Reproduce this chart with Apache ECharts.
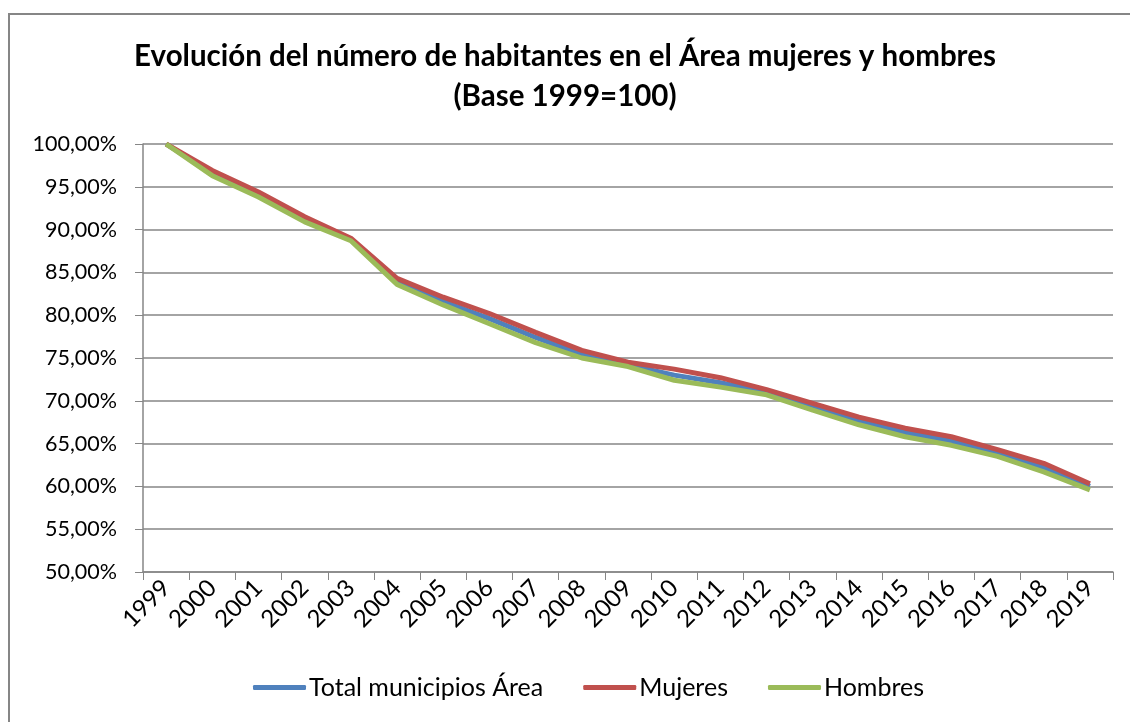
<!DOCTYPE html>
<html>
<head>
<meta charset="utf-8">
<script src="https://cdn.jsdelivr.net/npm/echarts@6/dist/echarts.min.js"></script>
<style>
  html, body { margin: 0; padding: 0; background: #fff; }
  #main { width: 1130px; height: 722px; }
</style>
</head>
<body>
<div id="main"></div>
<script>
// años
var years = ['1999', '2000', '2001', '2002', '2003', '2004', '2005', '2006', '2007', '2008', '2009',
  '2010', '2011', '2012', '2013', '2014', '2015', '2016', '2017', '2018', '2019'];

// Base 1999 = 100
var total = [100, 96.6, 94.1, 91.2, 88.85, 83.95, 81.6, 79.6, 77.4, 75.4, 74.2,
  73.0, 72.1, 71.0, 69.3, 67.6, 66.3, 65.3, 63.9, 62.2, 60.0];
var mujeres = [100, 96.9, 94.4, 91.5, 89.0, 84.3, 82.1, 80.2, 78.0, 75.9, 74.5,
  73.7, 72.7, 71.3, 69.7, 68.1, 66.8, 65.8, 64.3, 62.7, 60.3];
var hombres = [100, 96.3, 93.8, 90.9, 88.7, 83.6, 81.2, 79.0, 76.8, 75.0, 74.0,
  72.4, 71.6, 70.7, 68.9, 67.2, 65.8, 64.8, 63.5, 61.7, 59.6];

var seriesNames = ['Total municipios Área', 'Mujeres', 'Hombres'];
var colores = ['#4F81BD', '#C0504D', '#9BBB59'];

var chart = echarts.init(document.getElementById('main'));

var option = {
  animation: false,
  color: colores,
  textStyle: { fontFamily: 'Lato' },
  title: {
    text: 'Evolución del número de habitantes en el Área mujeres y hombres\n(Base 1999=100)',
    left: 'center',
    top: 31,
    textStyle: {
      fontFamily: 'Lato',
      fontWeight: 'bold',
      fontSize: 29.5,
      lineHeight: 40,
      color: '#000'
    }
  },
  graphic: [{
    type: 'rect',
    shape: { x: 9, y: 14, width: 1200, height: 800 },
    style: { fill: 'none', stroke: '#868686', lineWidth: 2 },
    silent: true
  }],
  grid: {
    left: 143,
    right: 17,
    top: 144,
    bottom: 150
  },
  legend: {
    bottom: 17,
    left: 248,
    itemWidth: 53,
    itemHeight: 5,
    itemGap: 40,
    icon: 'roundRect',
    textStyle: { fontSize: 25, color: '#000', fontFamily: 'Lato', padding: [0, 0, 0, -2] },
    data: seriesNames
  },
  xAxis: {
    type: 'category',
    boundaryGap: true,
    data: years,
    axisLine: { lineStyle: { color: '#868686', width: 1.5 } },
    axisTick: { show: true, length: 8, lineStyle: { color: '#868686' } },
    axisLabel: {
      rotate: 45,
      interval: 0,
      fontSize: 24,
      color: '#000',
      margin: 12
    }
  },
  yAxis: {
    type: 'value',
    min: 50,
    max: 100,
    interval: 5,
    axisLine: { show: true, lineStyle: { color: '#868686', width: 1.5 } },
    axisTick: { show: true, length: 8, lineStyle: { color: '#868686' } },
    splitLine: { lineStyle: { color: '#868686', width: 1.5 } },
    axisLabel: {
      fontSize: 21.5,
      color: '#000',
      margin: 26,
      formatter: function (v) {
        return v.toFixed(2).replace('.', ',') + '%';
      }
    }
  },
  series: [{
    name: seriesNames[0],
    type: 'line',
    data: total,
    symbol: 'none',
    lineStyle: { width: 5 }
  }, {
    name: seriesNames[1],
    type: 'line',
    data: mujeres,
    symbol: 'none',
    lineStyle: { width: 5 }
  }, {
    name: seriesNames[2],
    type: 'line',
    data: hombres,
    symbol: 'none',
    lineStyle: { width: 5 }
  }]
};

chart.setOption(option);
</script>
</body>
</html>
